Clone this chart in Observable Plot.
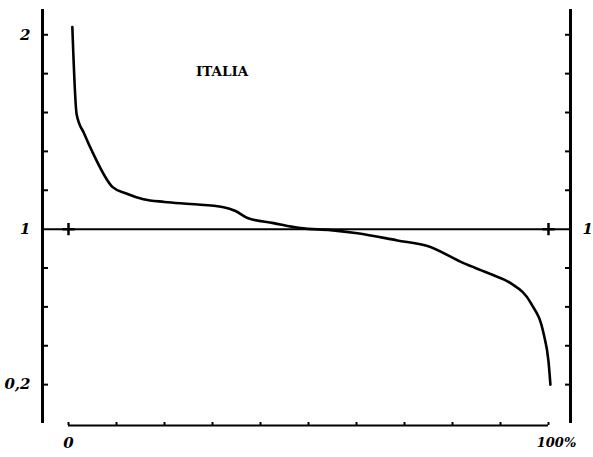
<!DOCTYPE html>
<html><head><meta charset="utf-8">
<script src="https://cdn.jsdelivr.net/npm/d3@7"></script>
<script src="https://cdn.jsdelivr.net/npm/@observablehq/plot@0.6"></script>
<style>body{margin:0;background:#fff} svg{display:block}</style>
</head><body><div id="chart"></div>
<script>
// share of cases (%) on x, ratio on y
const pct   = [0.8, 1.7, 3.3, 5.2, 9.2, 11.9, 15.6, 20, 25.4, 32.3, 34.8, 37.3, 42.7, 48.3, 54.6, 60.2, 68.5, 74.8, 82.3, 87.9, 92.1, 96.3, 99.0, 100.0, 100.4];
const ratio = [2.04, 1.59, 1.49, 1.386, 1.216, 1.185, 1.154, 1.14, 1.129, 1.113, 1.093, 1.057, 1.031, 1.005, 0.995, 0.979, 0.942, 0.913, 0.825, 0.769, 0.722, 0.62, 0.46, 0.32, 0.20];
const yTicks  = [0.2, 0.4, 0.6, 0.8, 1.2, 1.4, 1.6, 1.8, 2];
const yLabels = [2, 1, 0.2];
const xTicks  = [0, 10, 20, 30, 40, 50, 60, 70, 80, 90, 100];
const xLabels = ["0", "100%"];
const title = "ITALIA";
const titlePos = {x: 32, y: 1.81};
const xFrame = [-5.4167, 104.583];

const data = pct.map((p, i) => ({p, r: ratio[i]}));
const fmt = d => String(d).replace(".", ",");
const labelFont = {fontSize: 15, fontWeight: "bold", fontStyle: "italic", fontFamily: "DejaVu Serif"};

const chart = Plot.plot({
  width: 593, height: 457,
  marginLeft: 42, marginRight: 23, marginTop: 9, marginBottom: 34,
  x: {domain: xFrame, label: null},
  y: {domain: [0, 2.13], label: null},
  style: {background: "#fff", color: "#000"},
  marks: [
    Plot.ruleX([xFrame[0]], {stroke: "#000", strokeWidth: 3}),
    Plot.ruleX([xFrame[1]], {stroke: "#000", strokeWidth: 3}),
    Plot.axisY(yTicks, {anchor: "left", label: null, tickSize: -6, tickFormat: () => "", strokeWidth: 2}),
    Plot.axisY(yTicks, {anchor: "right", label: null, tickSize: -6, tickFormat: () => "", strokeWidth: 2}),
    Plot.axisY(yLabels, {anchor: "left", label: null, tickSize: 0, tickPadding: 12, tickFormat: fmt, ...labelFont}),
    Plot.axisY([1], {anchor: "right", label: null, tickSize: 0, tickPadding: 12, tickFormat: fmt, ...labelFont}),
    Plot.ruleY([1], {stroke: "#000", strokeWidth: 2}),
    Plot.dot([xTicks[0], xTicks[xTicks.length - 1]], {x: d => d, y: 1, symbol: "plus", r: 4, stroke: "#000", strokeWidth: 2.5}),
    Plot.ruleY([0], {x1: xTicks[0], x2: xTicks[xTicks.length - 1], stroke: "#000", strokeWidth: 2, dy: 2}),
    Plot.axisX(xTicks, {anchor: "bottom", label: null, tickSize: -3, tickFormat: () => "", strokeWidth: 2, dy: 2}),
    Plot.axisX([xTicks[0]], {anchor: "bottom", label: null, tickSize: 0, tickPadding: 14, tickFormat: () => xLabels[0], ...labelFont}),
    Plot.axisX([xTicks[xTicks.length - 1]], {anchor: "bottom", label: null, tickSize: 0, tickPadding: 14, dx: 8, tickFormat: () => xLabels[1], ...labelFont, fontSize: 13}),
    Plot.line(data, {x: "p", y: "r", stroke: "#000", strokeWidth: 2.6, curve: "monotone-x"}),
    Plot.text([title], {x: titlePos.x, y: titlePos.y, text: d => d, fontSize: 13.5, fontWeight: "bold", fontFamily: "DejaVu Serif", fill: "#000"})
  ]
});
document.getElementById("chart").append(chart);
</script>
</body></html>
